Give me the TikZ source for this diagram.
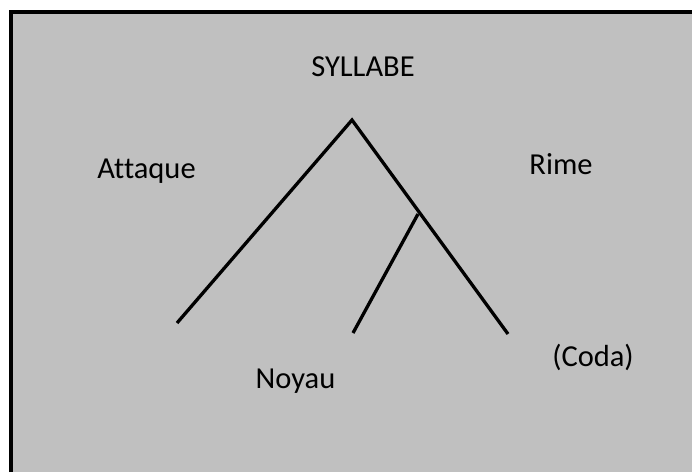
\documentclass[tikz,border=0pt]{standalone}
\usepackage{fontspec}
\setmainfont{Carlito}[Ligatures=NoCommon]
\usepackage{xcolor}
\definecolor{PanelGray}{HTML}{C0C0C0}
\usepackage{tikz}
\usetikzlibrary{positioning}

\begin{document}
\begin{tikzpicture}[x=1pt, y=-1pt,
		label/.style={anchor=base, inner sep=0pt, font=\fontsize{30.5}{36}\selectfont},
		branch/.style={black, line width=3.3pt}]
			\useasboundingbox (0, 0) rectangle (692, 472);
			\fill[PanelGray] (11, 12) rectangle (692, 472);
			\draw[black, line width=4pt] (11, 472) -- (11, 12) -- (692, 12);
			% tree points
			\coordinate (top) at (352, 120);
			\coordinate (onset) at (177, 323);
			\coordinate (rime) at (418, 214);
			\coordinate (nucleus) at (353, 333);
			\coordinate (coda) at (508, 334);
			\draw[branch] (onset) -- (top) -- (coda);
			\draw[branch] (rime) -- (nucleus);
			% labels
			\node[label] (syllabe) at (363, 76.5) {SYLLABE};
			\node[label] (attaque) at (146.5, 178) {Attaque};
			\node[label] (rimetext) at (561, 174) {Rime};
			\node[label] (noyau) at (295.5, 388) {Noyau};
			\node[label] (codatext) at (593, 366) {(Coda)};
\end{tikzpicture}
\end{document}
